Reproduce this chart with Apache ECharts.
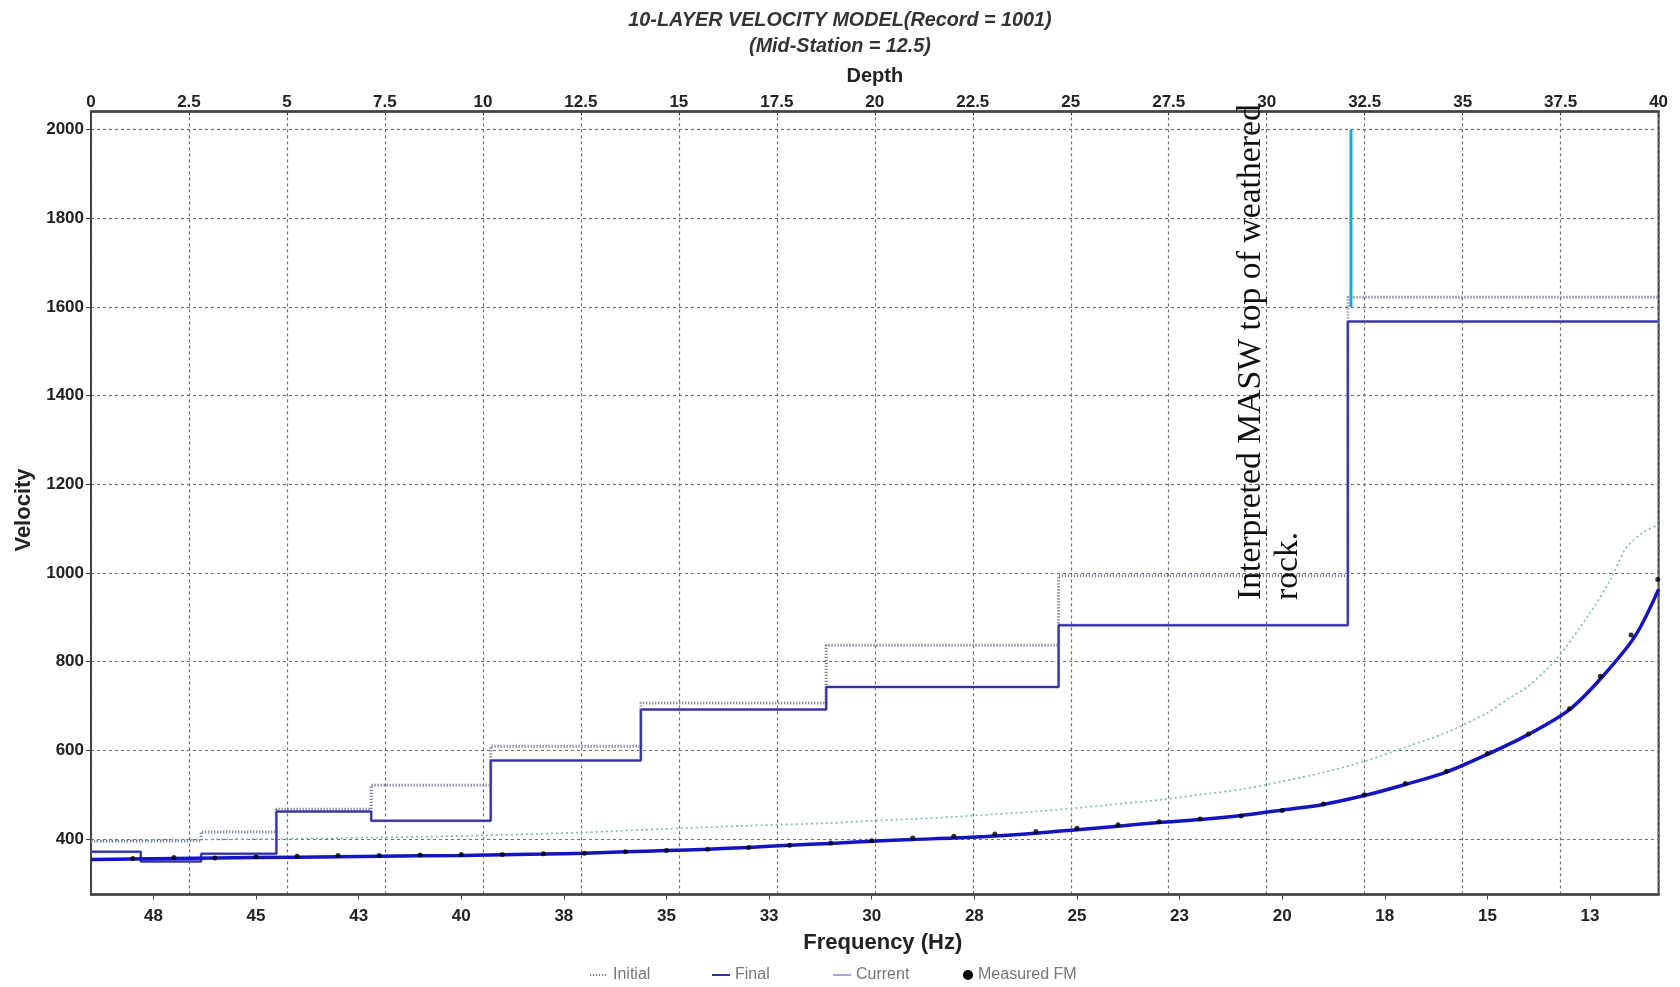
<!DOCTYPE html>
<html><head><meta charset="utf-8">
<script src="https://cdn.jsdelivr.net/npm/echarts@6/dist/echarts.min.js"></script>
<style>html,body{margin:0;padding:0;background:#fff}#c{width:1680px;height:987px}</style>
</head><body><div id="c"></div>
<script>
// ---- Velocity model (depth axis, top) ----
const depthBounds = [0, 1.27, 2.81, 4.73, 7.15, 10.2, 14.03, 18.76, 24.69, 32.07, 40];
const initialVel  = [395, 396, 416, 467, 521, 609, 707, 837, 994, 1622];
const finalVel    = [371, 349, 367, 462, 441, 577, 692, 743, 882, 1567];
const currentVel  = [371, 349, 367, 462, 441, 577, 692, 743, 882, 1567];

// ---- Dispersion curves (frequency axis, bottom) ----
const finalFmFreq = [49.02, 48, 46, 44, 42, 40, 38, 37, 36, 35, 34, 33, 32, 31, 30, 29, 28, 27, 26, 25, 24, 23, 22, 21, 20, 19, 18, 17, 16, 15, 14, 13, 12.2, 11.4, 10.83];
const finalFmVel  = [354, 355, 357, 359, 361, 363, 366, 368, 371, 374, 377, 381, 386, 390, 395, 399, 402, 407, 413, 421, 429, 437, 444, 453, 465, 478, 498, 523, 551, 591, 636, 692, 766, 858, 963];
const initFmFreq  = [49.02, 47, 45, 43, 41, 39.5, 37, 35, 33, 31, 30, 29, 28, 27, 26, 25, 24, 23, 22, 21, 20, 19, 18, 17, 16, 15, 14.45, 14, 13.3, 12.5, 12, 11.63, 11.2, 10.83];
const initFmVel   = [396, 398, 400, 402, 405, 408, 415, 423, 430, 436, 441, 445, 450, 456, 462, 470, 479, 488, 500, 512, 530, 550, 575, 607, 640, 685, 719, 745, 808, 910, 985, 1055, 1092, 1108];
const measFreq    = [48, 47, 46, 45, 44, 43, 42, 41, 40, 39, 38, 37, 36, 35, 34, 33, 32, 31, 30, 29, 28, 27, 26, 25, 24, 23, 22, 21, 20, 19, 18, 17, 16, 15, 14, 13, 12.25, 11.5, 10.85];
const measVel     = [356, 358, 357, 360, 361, 363, 363, 364, 365, 365, 367, 368, 371, 374, 377, 381, 386, 391, 396, 402, 406, 411, 417, 424, 432, 439, 445, 452, 464, 479, 500, 525, 553, 593, 637, 694, 767, 860, 985];

// ---- Axes ----
const depthRange = [0, 40];
const freqRange = [10.83, 49.02];
const velRange = [274.6, 2041];
const freqTicks = [47.5, 45, 42.5, 40, 37.5, 35, 32.5, 30, 27.5, 25, 22.5, 20, 17.5, 15, 12.5];
const freqTickLabels = ['48', '45', '43', '40', '38', '35', '33', '30', '28', '25', '23', '20', '18', '15', '13'];
const velTicks = [400, 600, 800, 1000, 1200, 1400, 1600, 1800, 2000];
const velTickLabels = ['400', '600', '800', '1000', '1200', '1400', '1600', '1800', '2000'];

// ---- Annotation ----
const rockDepth = 32.15;
const rockVel = [1600, 2000];
const annotText = 'Interpreted MASW top of weathered\nrock.';
const annotAt = [30.08, 939];

const titleText = '10-LAYER VELOCITY MODEL(Record = 1001)\n(Mid-Station = 12.5)';

function stepData(vel) {
  const d = [];
  for (let i = 0; i < depthBounds.length; i++) d.push([depthBounds[i], vel[Math.min(i, vel.length - 1)]]);
  return d;
}
function pairs(xs, ys) { return xs.map((x, i) => [x, ys[i]]); }
function lookup(ticks, labels) {
  return v => { const i = ticks.findIndex(t => Math.abs(t - v) < 1e-6); return i >= 0 ? labels[i] : ''; };
}

const FONT = "'Liberation Sans', Arial, sans-serif";
const chart = echarts.init(document.getElementById('c'), null, {renderer: 'canvas'});
const legendBase = {orient: 'horizontal', top: 967, itemWidth: 18, itemHeight: 10, itemGap: 5, padding: 0,
  itemStyle: {opacity: 0},
  textStyle: {color: '#777', fontSize: 16, fontFamily: FONT}, selectedMode: false};

chart.setOption({
  animation: false,
  backgroundColor: '#fff',
  title: {text: titleText, left: 'center', top: 3,
    textStyle: {fontFamily: FONT, fontSize: 19.8, fontWeight: 'bold', fontStyle: 'italic', color: '#333', lineHeight: 26}},
  grid: {left: 91, right: 21.4, top: 111.4, bottom: 92.4, show: true, borderColor: '#333', borderWidth: 2, backgroundColor: 'transparent'},
  legend: [
    Object.assign({}, legendBase, {left: 589, data: ['Initial']}),
    Object.assign({}, legendBase, {left: 711, data: ['Final']}),
    Object.assign({}, legendBase, {left: 832, data: ['Current']}),
    Object.assign({}, legendBase, {left: 963, data: ['Measured FM'], itemWidth: 10, itemStyle: {opacity: 1}})
  ],
  xAxis: [
    {type: 'value', position: 'top', min: depthRange[0], max: depthRange[1], interval: 2.5,
      name: 'Depth', nameLocation: 'middle', nameGap: 25,
      nameTextStyle: {fontFamily: FONT, fontSize: 20, fontWeight: 'bold', color: '#222'},
      axisLine: {show: true, lineStyle: {color: '#444', width: 2.5}},
      axisTick: {show: true, inside: true, length: 4, lineStyle: {color: '#444'}},
      axisLabel: {fontFamily: FONT, fontSize: 17, fontWeight: 'bold', color: '#222', margin: 1},
      splitLine: {show: true, lineStyle: {color: '#6f6f6f', type: [3, 3], width: 1.2}}},
    {type: 'value', position: 'bottom', inverse: true, min: freqRange[0], max: freqRange[1],
      name: 'Frequency (Hz)', nameLocation: 'middle', nameGap: 37,
      nameTextStyle: {fontFamily: FONT, fontSize: 22, fontWeight: 'bold', color: '#222', padding: [0, 0, 0, 16]},
      axisLine: {show: true, onZero: false, lineStyle: {color: '#444', width: 2.5}},
      axisTick: {show: true, length: 5, customValues: freqTicks, lineStyle: {color: '#444'}},
      axisLabel: {customValues: freqTicks, fontFamily: FONT, fontSize: 17, fontWeight: 'bold', color: '#222', margin: 13,
        formatter: lookup(freqTicks, freqTickLabels)},
      splitLine: {show: false}}
  ],
  yAxis: [
    {type: 'value', min: velRange[0], max: velRange[1],
      name: 'Velocity', nameLocation: 'middle', nameGap: 56, nameRotate: 90,
      nameTextStyle: {fontFamily: FONT, fontSize: 22, fontWeight: 'bold', color: '#222', padding: [0, 14, 0, 0]},
      axisLine: {show: true, lineStyle: {color: '#444', width: 2}},
      axisTick: {show: true, length: 5, customValues: velTicks, lineStyle: {color: '#444'}},
      axisLabel: {customValues: velTicks, fontFamily: FONT, fontSize: 17, fontWeight: 'bold', color: '#222', margin: 7,
        formatter: lookup(velTicks, velTickLabels)},
      splitLine: {show: true, lineStyle: {color: '#6f6f6f', type: [3, 3], width: 1.2}}}
  ],
  series: [
    {name: 'Initial FM', type: 'line', xAxisIndex: 1, yAxisIndex: 0, data: pairs(initFmFreq, initFmVel), smooth: 0.3,
      symbol: 'none', lineStyle: {color: '#7fbfac', width: 1.7, type: [2, 3]}, z: 3},
    {name: 'Initial', type: 'line', xAxisIndex: 0, yAxisIndex: 0, data: stepData(initialVel), step: 'end',
      symbol: 'none', lineStyle: {color: '#7c7c9c', width: 3, type: [1.2, 1.8]}, itemStyle: {color: '#7c7c9c'}, z: 4},
    {name: 'Current', type: 'line', xAxisIndex: 0, yAxisIndex: 0, data: stepData(currentVel), step: 'end',
      symbol: 'none', lineStyle: {color: '#a9a9dc', width: 3}, itemStyle: {color: '#a9a9dc'}, z: 5},
    {name: 'Final', type: 'line', xAxisIndex: 0, yAxisIndex: 0, data: stepData(finalVel), step: 'end',
      symbol: 'none', lineStyle: {color: '#3030a8', width: 2}, itemStyle: {color: '#3030a8'}, z: 6},
    {name: 'Final FM', type: 'line', xAxisIndex: 1, yAxisIndex: 0, data: pairs(finalFmFreq, finalFmVel), smooth: 0.3,
      symbol: 'none', lineStyle: {color: '#1414c0', width: 3.5}, z: 7},
    {name: 'Measured FM', type: 'scatter', xAxisIndex: 1, yAxisIndex: 0, data: pairs(measFreq, measVel),
      symbol: 'circle', symbolSize: 5, itemStyle: {color: '#000'}, z: 8},
    {name: 'Rock top', type: 'line', xAxisIndex: 0, yAxisIndex: 0, data: rockVel.map(v => [rockDepth, v]),
      symbol: 'none', lineStyle: {color: '#1aa6e0', width: 3}, z: 9}
  ]
});

const p = chart.convertToPixel({xAxisIndex: 0, yAxisIndex: 0}, annotAt);
chart.setOption({graphic: [{type: 'text', x: p[0], y: p[1], rotation: Math.PI / 2, z: 100,
  style: {text: annotText, fill: '#111', font: "33.7px 'Liberation Serif', 'DejaVu Serif', serif", lineHeight: 37,
    align: 'left', verticalAlign: 'middle'}}]});
</script></body></html>
